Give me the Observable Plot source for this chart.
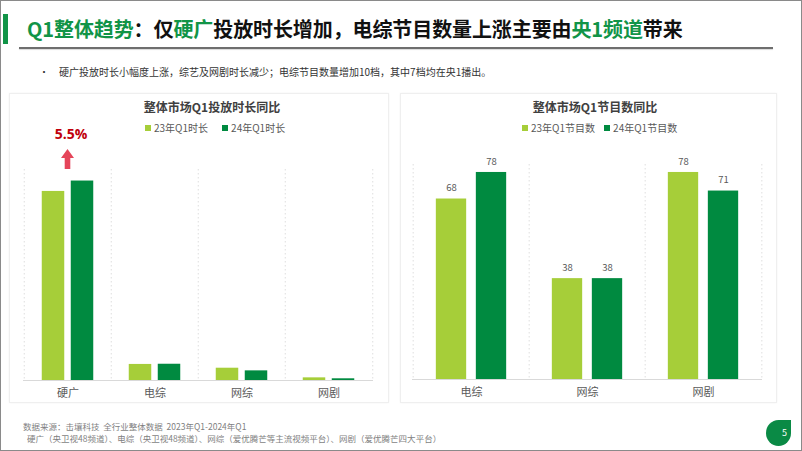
<!DOCTYPE html>
<html lang="zh">
<head>
<meta charset="utf-8">
<script src="https://cdn.jsdelivr.net/npm/d3@7"></script>
<script src="https://cdn.jsdelivr.net/npm/@observablehq/plot@0.6"></script>
<style>
  html, body { margin: 0; padding: 0; background: #fff; }
  body { font-family: "Noto Sans CJK SC", "Noto Sans", sans-serif; }
  #slide { position: relative; width: 802px; height: 451px; box-sizing: border-box; border: 1px solid #8a8a8a; overflow: hidden; background: #fff; }
  .abs { position: absolute; }
  #titlebar { left: 2px; top: 13px; width: 5px; height: 30px; background: #119447; }
  #title { left: 26px; top: 14px; font-size: 20px; font-weight: 700; line-height: 28px; color: #111; white-space: nowrap; letter-spacing: -0.1px; }
  #title .g { color: #119447; }
  #rule { left: 18px; top: 46px; width: 754px; height: 1.5px; background: #6e6e6e; box-shadow: 0 1px 1px rgba(0,0,0,0.15); }
  #bullet { left: 38px; top: 64px; font-size: 10px; line-height: 14px; color: #333; }
  #bullettext { left: 58px; top: 64px; font-size: 10px; line-height: 14px; color: #333; white-space: nowrap; }
  .panel { border: 1px solid #efefef; box-shadow: 0 0 2px rgba(0,0,0,0.05); box-sizing: border-box; }
  .ctitle { font-size: 12px; font-weight: 700; color: #404040; line-height: 16px; white-space: nowrap; transform: translateX(-50%); }
  .legend { display: flex; align-items: center; font-size: 10px; line-height: 14px; color: #595959; white-space: nowrap; }
  .legend .item { display: flex; align-items: center; }
  .legend .sw { width: 6px; height: 6px; margin-right: 3px; }
  .foot { font-size: 8.5px; line-height: 12px; color: #7f7f7f; white-space: nowrap; }
  #leaf { left: 765px; top: 419px; width: 25px; height: 26px; background: #0a8a45; border-radius: 55% 0 55% 55%; }
  #pagenum { left: 781px; top: 426px; font-size: 9px; line-height: 12px; color: #fff; }
</style>
</head>
<body>
<div id="slide">
  <div id="titlebar" class="abs"></div>
  <div id="title" class="abs"><span class="g">Q1整体趋势</span>：仅<span class="g">硬广</span>投放时长增加，电综节目数量上涨主要由<span class="g">央1频道</span>带来</div>
  <div id="rule" class="abs"></div>
  <div id="bullet" class="abs">•</div>
  <div id="bullettext" class="abs">硬广投放时长小幅度上涨，综艺及网剧时长减少；电综节目数量增加10档，其中7档均在央1播出。</div>

  <div class="abs panel" style="left:8px;top:92px;width:380px;height:310px;"></div>
  <div class="abs panel" style="left:399px;top:92px;width:377px;height:310px;"></div>

  <div id="title1" class="abs ctitle" style="left:211px;top:98px;"></div>
  <div id="legend1" class="abs legend" style="left:144px;top:120px;"></div>
  <div id="title2" class="abs ctitle" style="left:594px;top:98px;"></div>
  <div id="legend2" class="abs legend" style="left:521px;top:120px;"></div>

  <div id="chart1" class="abs" style="left:8px;top:110px;"></div>
  <div id="chart2" class="abs" style="left:398px;top:140px;"></div>

  <div class="abs foot" style="left:22px;top:419px;">数据来源：击壤科技&nbsp; 全行业整体数据&nbsp; 2023年Q1-2024年Q1</div>
  <div class="abs foot" style="left:26px;top:431px;">硬广（央卫视48频道）、电综（央卫视48频道）、网综（爱优腾芒等主流视频平台）、网剧（爱优腾芒四大平台）</div>
  <div id="leaf" class="abs"></div>
  <div id="pagenum" class="abs">5</div>
</div>

<script>
// ---------- data ----------
const durationTitle = "整体市场Q1投放时长同比";
const durationCategories = ["硬广", "电综", "网综", "网剧"];
const durationSeries = ["23年Q1时长", "24年Q1时长"];
const duration23 = [100, 8.5, 6.5, 1.4];   // relative index (硬广 2023 = 100)
const duration24 = [105.5, 8.6, 5.1, 0.9];

const countTitle = "整体市场Q1节目数同比";
const countCategories = ["电综", "网综", "网剧"];
const countSeries = ["23年Q1节目数", "24年Q1节目数"];
const count23 = [68, 38, 78];
const count24 = [78, 38, 71];

const seriesColors = ["#a6ce39", "#008a40"];

// ---------- helpers ----------
function rows(cats, a, b, names) {
  return cats.flatMap((c, i) => [
    {cat: c, series: names[0], value: a[i]},
    {cat: c, series: names[1], value: b[i]}
  ]);
}

function legend(el, names, gap) {
  const node = document.getElementById(el);
  names.forEach((n, i) => {
    const it = document.createElement("div");
    it.className = "item";
    if (i > 0) it.style.marginLeft = gap + "px";
    const sw = document.createElement("div");
    sw.className = "sw";
    sw.style.background = seriesColors[i];
    const tx = document.createElement("span");
    tx.textContent = n;
    it.appendChild(sw); it.appendChild(tx);
    node.appendChild(it);
  });
}

const blockArrow = {
  draw(context, size) {
    const k = Math.sqrt(size / Math.PI) / 10;
    context.moveTo(0, -10 * k);
    context.lineTo(6.5 * k, -1 * k);
    context.lineTo(2.8 * k, -1 * k);
    context.lineTo(2.8 * k, 10 * k);
    context.lineTo(-2.8 * k, 10 * k);
    context.lineTo(-2.8 * k, -1 * k);
    context.lineTo(-6.5 * k, -1 * k);
    context.closePath();
  }
};

function groupedChart(cfg) {
  const {cats, names, data, width, height, marginTop, marginLeft, marginRight, marginBottom,
         yMax, barW, gap, valueLabels, extra = []} = cfg;
  const bw = (width - marginLeft - marginRight) / cats.length;
  const outer = (bw - 2 * barW - gap) / 2;
  const half = (barW + gap) / 2;
  const s0 = data.filter(d => d.series === names[0]);
  const s1 = data.filter(d => d.series === names[1]);
  const marks = [
    Plot.ruleX(cats, {x: d => d, dx: -bw / 2, stroke: "#dedede", strokeDasharray: "1.5,2.5"}),
    Plot.ruleX([cats[cats.length - 1]], {x: d => d, dx: bw / 2, stroke: "#dedede", strokeDasharray: "1.5,2.5"}),
    Plot.barY(s0, {x: "cat", y: "value", fill: seriesColors[0], insetLeft: outer, insetRight: outer + barW + gap}),
    Plot.barY(s1, {x: "cat", y: "value", fill: seriesColors[1], insetLeft: outer + barW + gap, insetRight: outer}),
    Plot.ruleY([0], {stroke: "#d9d9d9"})
  ];
  if (valueLabels) {
    marks.push(
      Plot.text(s0, {x: "cat", y: "value", text: d => String(d.value), dx: -half, dy: -11, fill: "#595959", fontSize: 9.5}),
      Plot.text(s1, {x: "cat", y: "value", text: d => String(d.value), dx: half, dy: -11, fill: "#595959", fontSize: 9.5})
    );
  }
  marks.push(...extra);
  return Plot.plot({
    width, height, marginTop, marginLeft, marginRight, marginBottom,
    style: {fontFamily: "'Noto Sans CJK SC', 'Noto Sans', sans-serif", fontSize: "11px", color: "#595959", background: "transparent", overflow: "visible"},
    x: {domain: cats, padding: 0, tickSize: 0, tickPadding: 9, label: null},
    y: {domain: [0, yMax], axis: null},
    marks
  });
}

// ---------- chart 1 ----------
document.getElementById("title1").textContent = durationTitle;
legend("legend1", durationSeries, 14);
const growth = ((duration24[0] / duration23[0] - 1) * 100).toFixed(1) + "%";
const chart1 = groupedChart({
  cats: durationCategories, names: durationSeries,
  data: rows(durationCategories, duration23, duration24, durationSeries),
  width: 380, height: 290, marginTop: 58, marginLeft: 14, marginRight: 16, marginBottom: 21,
  yMax: 111.6, barW: 23, gap: 6, valueLabels: false,
  extra: [
    Plot.dot([growth], {x: () => durationCategories[0], y: () => duration24[0], symbol: blockArrow, r: 10, fill: "#e5455a", stroke: "none", dy: -22, dx: -0.5}),
    Plot.text([growth], {x: () => durationCategories[0], y: () => duration24[0], text: d => d, dy: -46.5, dx: 3, fill: "#c0000c", fontSize: 14, fontWeight: "bold", fontFamily: "'Open Sans', 'Noto Sans', sans-serif"})
  ]
});
document.getElementById("chart1").appendChild(chart1);

// ---------- chart 2 ----------
document.getElementById("title2").textContent = countTitle;
legend("legend2", countSeries, 9);
const chart2 = groupedChart({
  cats: countCategories, names: countSeries,
  data: rows(countCategories, count23, count24, countSeries),
  width: 380, height: 260, marginTop: 23, marginLeft: 13, marginRight: 17, marginBottom: 22,
  yMax: 81, barW: 31, gap: 9, valueLabels: true
});
document.getElementById("chart2").appendChild(chart2);
</script>
</body>
</html>
